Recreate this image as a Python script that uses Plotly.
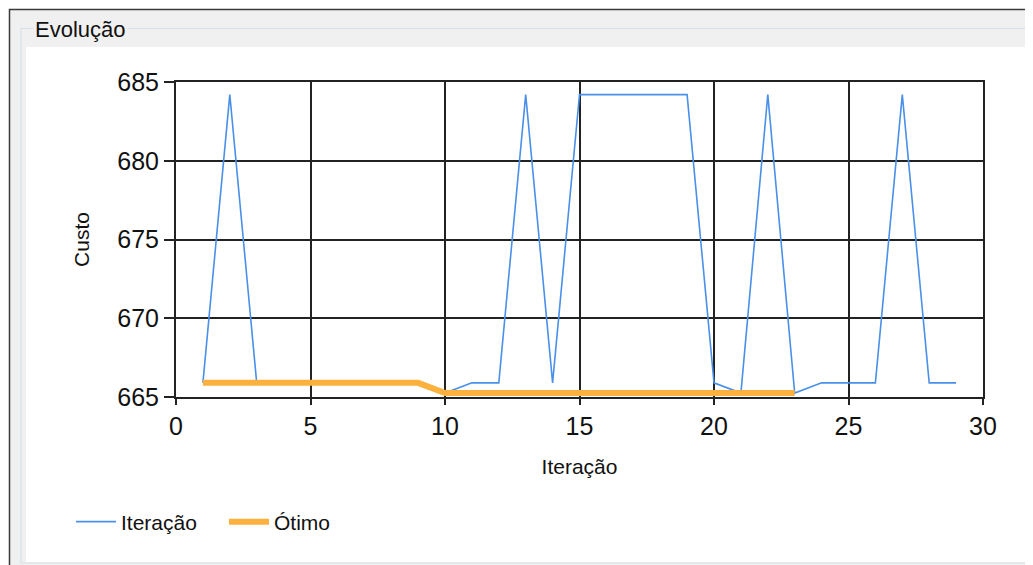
import plotly.graph_objects as go

# ---- data ----
iteracoes = list(range(1, 30))
custo_iteracao = [665.9, 684.2, 665.9, 665.9, 665.9, 665.9, 665.9, 665.9, 665.9,
                  665.25, 665.9, 665.9, 684.2, 665.9, 684.2, 684.2, 684.2, 684.2,
                  684.2, 665.9, 665.25, 684.2, 665.25, 665.9, 665.9, 665.9, 684.2,
                  665.9, 665.9]
iteracoes_otimo = list(range(1, 24))
custo_otimo = [665.9] * 9 + [665.25] * 14
x_ticks = [0, 5, 10, 15, 20, 25, 30]
y_ticks = [665, 670, 675, 680, 685]

OFF = 8  # browser body margin
W, H = 1033 - OFF, 565 - OFF
L, R, T, B = 176, 983, 82, 397  # plot area in window px


def px(x):
    return (x - L) / (R - L)


def py(y):
    return (B - y) / (B - T)


FONT = "Liberation Sans, Arial, sans-serif"

fig = go.Figure()
fig.add_trace(go.Scatter(x=iteracoes, y=custo_iteracao, mode="lines", name="Iteração",
                         line=dict(color="#4A90E8", width=1.6)))
fig.add_trace(go.Scatter(x=iteracoes_otimo, y=custo_otimo, mode="lines", name="Ótimo",
                         line=dict(color="#FCB13E", width=6)))

shapes = [
    dict(type="rect", xref="paper", yref="paper", x0=px(9.5), x1=px(1045), y0=py(9.5), y1=py(580),
         fillcolor="#F0F0F0", line=dict(color="#3A3A3A", width=1.5), layer="below"),
    dict(type="rect", xref="paper", yref="paper", x0=px(21), x1=px(1050), y0=py(28.5), y1=py(563),
         fillcolor="rgba(0,0,0,0)", line=dict(color="#D5DFE5", width=1.2), layer="below"),
    dict(type="rect", xref="paper", yref="paper", x0=px(26), x1=px(1045), y0=py(47), y1=py(562),
         fillcolor="#FFFFFF", line=dict(width=0), layer="below"),
]

fig.update_layout(
    width=W, height=H,
    margin=dict(l=L - OFF, r=1033 - R, t=T - OFF, b=565 - B, pad=0),
    paper_bgcolor="#FFFFFF",
    plot_bgcolor="#FFFFFF",
    font=dict(family=FONT, color="#000000"),
    shapes=shapes,
    showlegend=True,
    legend=dict(orientation="h", x=px(71), xanchor="left", y=py(522), yanchor="middle",
                font=dict(size=21, family=FONT, color="#111111"), bgcolor="rgba(0,0,0,0)",
                itemwidth=40, entrywidth=98, entrywidthmode="pixels", tracegroupgap=0),
    annotations=[dict(text="Evolução", xref="paper", yref="paper", x=px(33), y=py(30),
                      xanchor="left", yanchor="middle", showarrow=False,
                      font=dict(size=22, family=FONT, color="#111111"),
                      bgcolor="#F0F0F0", borderpad=1)],
    xaxis=dict(range=[0, 30], tickvals=x_ticks, ticktext=[str(v) for v in x_ticks],
               showgrid=True, gridcolor="#222222", gridwidth=1.5,
               showline=True, linecolor="#222222", linewidth=2, mirror=True,
               ticks="outside", ticklen=6, tickcolor="#222222", tickwidth=1.5,
               tickfont=dict(size=25, family=FONT, color="#111111"),
               title=dict(text="Iteração", font=dict(size=21, family=FONT, color="#111111"), standoff=20),
               zeroline=False, fixedrange=True),
    yaxis=dict(range=[665, 685], tickvals=y_ticks, ticktext=[str(v) for v in y_ticks],
               showgrid=True, gridcolor="#222222", gridwidth=1.5,
               showline=True, linecolor="#222222", linewidth=2, mirror=True,
               ticks="outside", ticklen=10, tickcolor="#222222", tickwidth=1.5,
               tickfont=dict(size=25, family=FONT, color="#111111"),
               title=dict(text="Custo", font=dict(size=21, family=FONT, color="#111111"), standoff=22),
               zeroline=False, fixedrange=True),
)

fig.write_html("out.html", config={"displayModeBar": False})
